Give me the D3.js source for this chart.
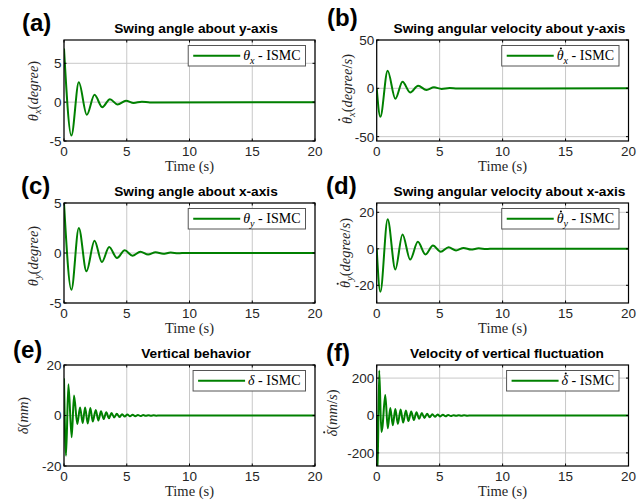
<!DOCTYPE html>
<html><head><meta charset="utf-8">
<script src="https://cdn.jsdelivr.net/npm/d3@7"></script>
<style>body{margin:0;background:#fff}svg{display:block}</style>
</head><body>
<svg id="c" width="641" height="500"></svg>
<script>
// ---------------- data ----------------
const xTicks = [0, 5, 10, 15, 20];

// (a) swing angle about y-axis (degree), extrema
const tA = [0, 0.59, 1.18, 1.82, 2.43, 3.05, 3.66, 4.27, 4.94, 5.55, 6.2, 6.85, 20];
const thetaX = [6.9, -4.3, 2.56, -1.63, 0.94, -0.64, 0.38, -0.3, 0.18, -0.1, 0.06, -0.03, 0];
const yTicksA = [-5, 0, 5];

// (b) swing angular velocity about y-axis (degree/s)
const tB = [0, 0.29, 0.87, 1.48, 2.05, 2.66, 3.29, 3.95, 4.55, 5.15, 5.8, 6.4, 20];
const omegaX = [0, -29.4, 18.2, -10.8, 6.8, -4.2, 2.7, -1.8, 1.0, -0.6, 0.4, -0.2, 0];
const yTicksB = [-50, 0, 50];

// (c) swing angle about x-axis (degree)
const tC = [0, 0.59, 1.18, 1.79, 2.43, 3.02, 3.6, 4.22, 4.84, 5.45, 6.09, 6.7, 7.3, 7.9, 8.5, 9.1, 9.7, 20];
const thetaY = [5, -3.67, 2.5, -1.83, 1.23, -0.9, 0.6, -0.5, 0.27, -0.27, 0.13, -0.15, 0.08, -0.07, 0.04, -0.03, 0.01, 0];
const yTicksC = [-5, 0, 5];

// (d) swing angular velocity about x-axis (degree/s)
const tD = [0, 0.29, 0.87, 1.48, 2.05, 2.66, 3.27, 3.87, 4.47, 5.08, 5.71, 6.3, 6.9, 7.5, 8.1, 8.7, 9.3, 20];
const omegaY = [0, -23.6, 16.2, -11.3, 7.8, -5.9, 3.8, -3.1, 1.8, -1.6, 0.9, -0.9, 0.5, -0.4, 0.25, -0.15, 0.08, 0];
const yTicksD = [-20, 0, 20];

// (e) vertical behaviour (mm)
const tE = [0, 0.16, 0.35, 0.61, 0.8, 1.06, 1.28, 1.49, 1.68, 1.89, 2.1, 2.29, 2.53, 2.74, 2.95, 3.16, 3.37, 3.58, 3.79, 4.0, 4.21, 4.42, 4.63, 4.84, 5.05, 5.26, 5.47, 5.68, 5.89, 6.1, 6.31, 6.52, 6.73, 6.94, 7.15, 7.36, 7.6, 20];
const delta = [14.7, -15.9, 12.4, -8.6, 7.9, -3.4, 3.2, -3.0, 3.2, -3.2, 3.0, -2.4, 2.2, -2.0, 1.7, -1.4, 1.3, -1.1, 1.0, -0.8, 0.7, -0.6, 0.5, -0.4, 0.4, -0.3, 0.3, -0.25, 0.2, -0.2, 0.15, -0.12, 0.1, -0.08, 0.06, -0.05, 0, 0];
const yTicksE = [-20, 0, 20];

// (f) velocity of vertical fluctuation (mm/s)
const tF = [0, 0.06, 0.2, 0.37, 0.45, 0.68, 0.88, 1.08, 1.28, 1.48, 1.68, 1.9, 2.1, 2.32, 2.52, 2.74, 2.95, 3.16, 3.37, 3.58, 3.79, 4.0, 4.21, 4.42, 4.63, 4.84, 5.05, 5.26, 5.47, 5.68, 5.89, 6.1, 6.31, 6.52, 6.73, 6.94, 7.2, 7.5, 20];
const deltaDot = [0, -320, 241, -88, -65, 110, -68, 40, -52, 35, -45, 32, -38, 27, -30, 22, -24, 17, -18, 13, -13, 10, -10, 7, -7, 5, -5, 4, -4, 3, -3, 2, -2, 1.5, -1.5, 1, -0.8, 0, 0];
const yTicksF = [-200, 0, 200];

const titles = ["Swing angle about y-axis", "Swing angular velocity about y-axis",
  "Swing angle about x-axis", "Swing angular velocity about x-axis",
  "Vertical behavior", "Velocity of vertical fluctuation"];
const panelLabels = ["(a)", "(b)", "(c)", "(d)", "(e)", "(f)"];
const xLabel = "Time (s)";

// ---------------- layout ----------------
const panels = [
  {x0:64, x1:315, y0:40, y1:141, dom:[-5, 8], ticks:yTicksA, t:tA, v:thetaX, tcx:196, tby:33, lx:22, lby:31,
   ylx:33, yly:91,
   ylab:[{s:"θ",i:1},{s:"x",i:1,sub:1},{s:"(",i:0},{s:"degree",i:1},{s:")",i:0}],
   leg:[{s:"θ",i:1},{s:"x",i:1,sub:1},{s:" - ISMC",i:0}]},
  {x0:376.7, x1:628.5, y0:40, y1:141, dom:[-54.5, 50], ticks:yTicksB, t:tB, v:omegaX, tcx:509.5, tby:33, lx:327, lby:26,
   ylx:346.5, yly:89,
   ylab:[{s:"θ",i:1,dot:1},{s:"x",i:1,sub:1},{s:"(",i:0},{s:"degree",i:1},{s:"/",i:0},{s:"s",i:1},{s:")",i:0}],
   leg:[{s:"θ",i:1,dot:1},{s:"x",i:1,sub:1},{s:" - ISMC",i:0}]},
  {x0:64, x1:315, y0:203, y1:303, dom:[-5, 5], ticks:yTicksC, t:tC, v:thetaY, tcx:196, tby:196, lx:21, lby:194,
   ylx:33, yly:256,
   ylab:[{s:"θ",i:1},{s:"y",i:1,sub:1},{s:"(",i:0},{s:"degree",i:1},{s:")",i:0}],
   leg:[{s:"θ",i:1},{s:"y",i:1,sub:1},{s:" - ISMC",i:0}]},
  {x0:376.7, x1:628.5, y0:203, y1:303, dom:[-29.7, 25.1], ticks:yTicksD, t:tD, v:omegaY, tcx:509.5, tby:196, lx:326, lby:194,
   ylx:345, yly:253,
   ylab:[{s:"θ",i:1,dot:1},{s:"y",i:1,sub:1},{s:"(",i:0},{s:"degree",i:1},{s:"/",i:0},{s:"s",i:1},{s:")",i:0}],
   leg:[{s:"θ",i:1,dot:1},{s:"y",i:1,sub:1},{s:" - ISMC",i:0}]},
  {x0:64, x1:315, y0:365, y1:466, dom:[-20, 20], ticks:yTicksE, t:tE, v:delta, tcx:196, tby:357.5, lx:13, lby:358,
   ylx:23, yly:415.5,
   ylab:[{s:"δ",i:1},{s:"(",i:0},{s:"mm",i:1},{s:")",i:0}],
   leg:[{s:"δ",i:1},{s:" - ISMC",i:0}]},
  {x0:376.7, x1:628.5, y0:365, y1:466, dom:[-270, 270], ticks:yTicksF, t:tF, v:deltaDot, tcx:507, tby:357.5, lx:326, lby:360.5,
   ylx:331.5, yly:413,
   ylab:[{s:"δ",i:1,dot:1},{s:"(",i:0},{s:"mm",i:1},{s:"/",i:0},{s:"s",i:1},{s:")",i:0}],
   leg:[{s:"δ",i:1,dot:1},{s:" - ISMC",i:0}]}
];

const SANS = "'Liberation Sans', Arial, Helvetica, sans-serif";
const SERIF = "'Liberation Serif', 'Times New Roman', serif";
const GREEN = "#008000";
const GRID = "#c8c8c8";

const svg = d3.select("#c");
svg.append("rect").attr("width", 641).attr("height", 500).attr("fill", "#fff");
const defs = svg.append("defs");

// rich text: italic parts and subscripts; returns tspans that carry a dot accent
function rich(textSel, parts, size) {
  let pdy = 0;
  const dotted = [];
  parts.forEach(p => {
    const ts = textSel.append("tspan").text(p.s)
      .attr("font-style", p.i ? "italic" : "normal");
    let dy = pdy; pdy = 0;
    if (p.sub) { ts.attr("font-size", size * 0.72); dy += size * 0.28; pdy = -size * 0.28; }
    else ts.attr("font-size", size);
    if (dy) ts.attr("dy", dy);
    if (p.dot) dotted.push(ts);
  });
  return dotted;
}
// dot accent drawn as a small circle over the glyph, in the text's own coordinates
function addDots(container, dotted, size, fill) {
  dotted.forEach(ts => {
    const b = ts.node().getBBox();
    const base = b.y + b.height * (0.891 / 1.107);
    container.append("circle")
      .attr("cx", b.x + b.width * 0.6).attr("cy", base - size * 0.84)
      .attr("r", size * 0.075).attr("fill", fill);
  });
}

panels.forEach((p, k) => {
  const x = d3.scaleLinear().domain([0, 20]).range([p.x0, p.x1]);
  const y = d3.scaleLinear().domain(p.dom).range([p.y1, p.y0]);
  const g = svg.append("g");
  const cid = "clip" + k;
  defs.append("clipPath").attr("id", cid).append("rect")
    .attr("x", p.x0).attr("y", p.y0).attr("width", p.x1 - p.x0).attr("height", p.y1 - p.y0);

  // grid
  g.append("g").selectAll("line").data(xTicks).join("line")
    .attr("x1", d => x(d)).attr("x2", d => x(d)).attr("y1", p.y0).attr("y2", p.y1)
    .attr("stroke", GRID).attr("stroke-width", 1);
  g.append("g").selectAll("line").data(p.ticks).join("line")
    .attr("x1", p.x0).attr("x2", p.x1).attr("y1", d => y(d)).attr("y2", d => y(d))
    .attr("stroke", GRID).attr("stroke-width", 1);

  // curve
  const pts = p.t.map((t, i) => [t, p.v[i]]);
  const line = d3.line().x(d => x(d[0])).y(d => y(d[1])).curve(d3.curveMonotoneX);
  g.append("path").datum(pts).attr("d", line).attr("fill", "none")
    .attr("stroke", GREEN).attr("stroke-width", 2).attr("stroke-linejoin", "round")
    .attr("clip-path", `url(#${cid})`);

  // box
  g.append("rect").attr("x", p.x0).attr("y", p.y0).attr("width", p.x1 - p.x0).attr("height", p.y1 - p.y0)
    .attr("fill", "none").attr("stroke", "#000").attr("stroke-width", 1.2);

  // ticks (inward, MATLAB style)
  const tl = 2.5;
  g.append("g").selectAll("path").data(xTicks).join("path")
    .attr("d", d => `M${x(d)},${p.y1}v${-tl}M${x(d)},${p.y0}v${tl}`)
    .attr("stroke", "#000").attr("stroke-width", 1);
  g.append("g").selectAll("path").data(p.ticks).join("path")
    .attr("d", d => `M${p.x0},${y(d)}h${tl}M${p.x1},${y(d)}h${-tl}`)
    .attr("stroke", "#000").attr("stroke-width", 1);

  // tick labels
  g.append("g").selectAll("text").data(xTicks).join("text")
    .attr("x", d => x(d)).attr("y", p.y1 + 15).attr("text-anchor", "middle")
    .attr("font-family", SANS).attr("font-size", 13.5).attr("fill", "#262626")
    .text(d => d);
  g.append("g").selectAll("text").data(p.ticks).join("text")
    .attr("x", p.x0 - 2.5).attr("y", d => y(d)).attr("dy", "0.36em").attr("text-anchor", "end")
    .attr("font-family", SANS).attr("font-size", 13.5).attr("fill", "#262626")
    .text(d => d);

  // title
  g.append("text").attr("x", p.tcx).attr("y", p.tby).attr("text-anchor", "middle")
    .attr("font-family", SANS).attr("font-weight", "bold").attr("font-size", 13.7)
    .attr("fill", "#000").text(titles[k]);

  // panel label
  g.append("text").attr("x", p.lx).attr("y", p.lby)
    .attr("font-family", SANS).attr("font-weight", "bold").attr("font-size", 24)
    .attr("fill", "#000").text(panelLabels[k]);

  // x label
  g.append("text").attr("x", (p.x0 + p.x1) / 2).attr("y", p.y1 + 30).attr("text-anchor", "middle")
    .attr("font-family", SERIF).attr("font-size", 14.5).attr("fill", "#262626").text(xLabel);

  // y label
  const ylg = g.append("g").attr("transform", `translate(${p.ylx},${p.yly}) rotate(-90)`);
  const yl = ylg.append("text")
    .attr("text-anchor", "middle").attr("dominant-baseline", "central")
    .attr("font-family", SERIF).attr("font-size", 14.5).attr("fill", "#262626");
  addDots(ylg, rich(yl, p.ylab, 14.5), 14.5, "#262626");

  // legend
  const lg = g.append("g");
  const right = p.x1 - 9.5, top = p.y0 + 5.5, lh = 20.5;
  const box = lg.append("rect");
  const lt = lg.append("text").attr("font-family", SERIF).attr("font-size", 14).attr("fill", "#000");
  const ld = rich(lt, p.leg, 14);
  const tw = lt.node().getComputedTextLength();
  const bw = 5 + 47 + 3 + tw + 5;
  const left = right - bw;
  box.attr("x", left).attr("y", top).attr("width", bw).attr("height", lh)
    .attr("fill", "#fff").attr("stroke", "#555").attr("stroke-width", 1);
  lg.append("line").attr("x1", left + 5).attr("x2", left + 52).attr("y1", top + lh / 2).attr("y2", top + lh / 2)
    .attr("stroke", GREEN).attr("stroke-width", 2);
  lt.attr("x", left + 55).attr("y", top + lh / 2 + 4.5);
  addDots(lg, ld, 14, "#000");
});
</script>
</body></html>
